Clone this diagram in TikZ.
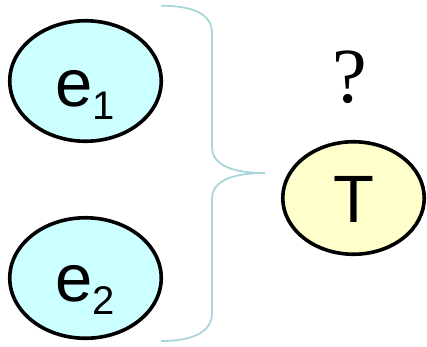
\documentclass[tikz,border=0pt]{standalone}
\usepackage{fontspec}
\setmainfont{Liberation Sans}
\newfontfamily\serifq{Liberation Serif}
\usetikzlibrary{shapes.geometric}
\definecolor{cyanfill}{HTML}{CCFFFF}
\definecolor{yellowfill}{HTML}{FFFFCC}
\definecolor{bracecol}{HTML}{A9D6DA}
\tikzset{
  ell/.style={ellipse, draw=black, line width=3.6pt, inner sep=0pt},
  lbl/.style={inner sep=0pt, anchor=base west, font=\fontsize{67}{67}\selectfont},
}
\begin{document}
\begin{tikzpicture}[x=1pt,y=-1pt]
\useasboundingbox (0,0) rectangle (427,346);
\node[ell, fill=cyanfill, minimum width=151.5pt, minimum height=120.5pt] (e1) at (85.5,81) {};
\node[ell, fill=cyanfill, minimum width=151.5pt, minimum height=120.5pt] (e2) at (85.5,278) {};
\node[ell, fill=yellowfill, minimum width=141.5pt, minimum height=112.5pt] (T) at (353.5,198) {};
\node[lbl] (t1) at (55,106) {e\raisebox{-13pt}{\fontsize{40}{40}\selectfont 1}};
\node[lbl] (t2) at (55,301) {e\raisebox{-13pt}{\fontsize{40}{40}\selectfont 2}};
\node[inner sep=0pt, anchor=base, font=\fontsize{67}{67}\selectfont] (tT) at (354,222) {T};
\node[inner sep=0pt, anchor=base, font=\serifq\fontsize{78}{78}\selectfont] (q) at (349.5,102) {?};
\coordinate (btop) at (161,5.7);
\coordinate (btip) at (265,173);
\coordinate (bbot) at (161,341);
\draw[bracecol, line width=1.8pt]
  (btop) .. controls (195,5.7) and (212,15) .. (212,33)
  -- (212,147) .. controls (212,165) and (232,173) .. (btip)
  .. controls (232,173) and (212,181) .. (212,199)
  -- (212,313) .. controls (212,331) and (195,341) .. (bbot);
\end{tikzpicture}
\end{document}
